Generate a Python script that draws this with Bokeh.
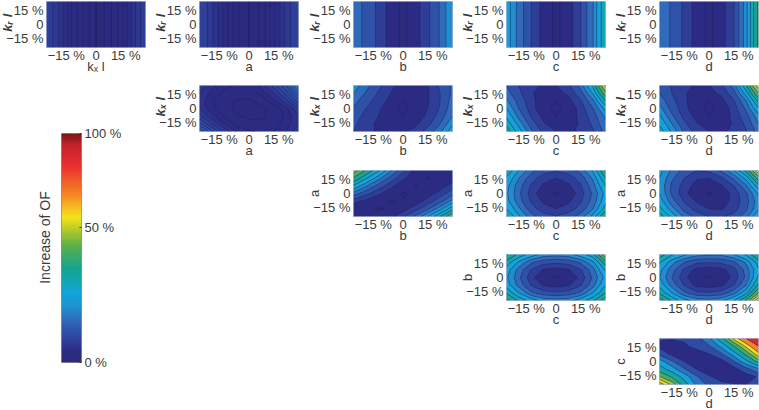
import numpy as np
from math import pi
from bokeh.plotting import figure
from bokeh.layouts import row, column
from bokeh.models import Label, Range1d, FixedTicker, Spacer, LinearColorMapper
from bokeh.embed import file_html
from bokeh.resources import INLINE

GX = [-25, -18.75, -12.5, -6.25, 0, 6.25, 12.5, 18.75, 25]
GY = [25, 16.7, 8.3, 0, -8.3, -16.7, -25]
TICKS = [-15, 0, 15]
XT = {-15: "\u221215 %", 0: "0", 15: "15 %"}
CB_TICKS = [0, 58.8, 100]
CB_LABELS = {0: "0 %", 58.8: "50 %", 100: "100 %"}

kr_kx = [9, 7, 4, 1.8, 0, 1.5, 3.5, 6.5, 9]
kr_a = [10, 7.5, 4.5, 1.5, 0, 1.5, 4.5, 7.5, 10]
kr_b = [19, 14.5, 10, 4.5, 0.3, 4.5, 10, 16.5, 26]
kr_c = [29, 19, 11, 4.5, 0.3, 4, 11, 21, 38]
kr_d = [21, 15, 10, 4.5, 0.3, 4.5, 10.5, 24, 47]

kx_a = [[8, 6, 4.5, 3.8, 4, 6, 9, 13, 21],
        [7, 5, 3.6, 2.8, 3, 4.5, 7, 10.5, 16],
        [6.5, 4.2, 2.8, 1.8, 1.6, 3, 5, 8, 12.5],
        [7, 4.4, 3, 1.5, 0.3, 1.4, 3, 5, 8.5],
        [9, 6, 3.8, 2.2, 1.5, 1.6, 2.8, 4.3, 7],
        [12, 8.5, 5.5, 3.5, 2.7, 2.6, 3.2, 4.8, 7],
        [16, 12, 8, 5.5, 4.2, 3.8, 4, 5.5, 8]]
kx_b = [[24, 18, 12.5, 7.5, 5, 4.5, 6.5, 12, 17],
        [21, 15.5, 10.5, 6.5, 3.8, 3.8, 6, 11, 17],
        [18, 13, 9, 5.2, 1.5, 3.3, 6, 11, 18],
        [15.5, 11, 7.5, 3.1, 0.3, 3, 6.5, 11.5, 19],
        [13.5, 9.5, 6.5, 3.2, 1.5, 4, 7.5, 13, 21],
        [12, 8.5, 5.5, 3.5, 4, 5.5, 9.5, 16, 25],
        [11, 7.5, 6, 5.5, 6, 8, 13, 20, 30]]
kx_c = [[16, 11, 7.5, 6, 6.2, 10, 18, 34, 62],
        [18, 12, 7, 4.5, 5, 7.5, 14, 27, 50],
        [22, 14, 8, 3.5, 1.5, 5, 10.5, 20, 38],
        [26, 16, 8.5, 3, 0.3, 3, 8.5, 16, 28],
        [31, 19, 10.5, 5, 1.5, 3.5, 8, 13.5, 22],
        [36, 24, 13.5, 7, 4.5, 4.5, 7, 12, 20],
        [42, 29, 17, 9.5, 6.5, 6, 7, 10.5, 18]]
kx_d = [[15, 10.5, 7.5, 6, 6.2, 10, 18, 38, 66],
        [16, 11, 7, 4.5, 5, 7.5, 14, 29, 52],
        [19, 12.5, 7.5, 3.5, 1.5, 5, 10.5, 21, 40],
        [23, 14, 8, 3, 0.3, 3, 8.5, 17, 31],
        [27, 17, 9.5, 5, 1.5, 3.5, 8, 14, 24],
        [31, 21, 12, 7, 4.5, 4.5, 7, 12, 21],
        [36, 25, 15, 9, 6.5, 6, 7, 10.5, 18]]
a_b = [[56, 44, 33, 22, 12, 5, 2.5, 2, 2.5],
       [44, 33, 23, 14, 7.5, 3, 0.7, 2, 4.5],
       [31, 22, 14, 8, 3.5, 0.7, 2, 4, 8.5],
       [19, 12.5, 7.5, 3.5, 0.5, 1.5, 4, 8.5, 14],
       [8, 5.5, 2.5, 0.6, 1.5, 4, 8.5, 14, 23],
       [3, 2, 0.6, 1.5, 4.5, 9, 15, 24, 36],
       [2.5, 1.5, 2, 5, 10, 17, 26, 38, 52]]
a_c = [[37, 26, 18, 13, 11.5, 13, 18, 27, 46],
       [31, 21, 13, 8.5, 6.5, 8.5, 13, 22, 38],
       [28, 18, 10.5, 5.5, 3, 5.5, 10.5, 19, 32],
       [27, 17, 9, 3, 0.3, 3, 9, 17, 28],
       [28, 18, 10.5, 5.5, 3, 5.5, 10.5, 18, 30],
       [32, 22, 13, 8.5, 6.5, 8.5, 13, 21, 35],
       [39, 27, 18, 13, 11.5, 13.5, 18.5, 28, 46]]
a_d = [[28, 20, 14, 11, 12, 17, 26, 40, 64],
       [26, 17, 11, 7, 6.5, 10, 17, 28, 48],
       [25, 15, 9, 4.5, 3.2, 6, 11, 20, 36],
       [26, 15, 8, 3, 0.3, 3, 8, 15, 27],
       [29, 18, 10.5, 6, 3.2, 4, 8, 14, 24],
       [34, 23, 14, 9, 6.5, 6, 9, 15, 25],
       [42, 30, 20, 14, 11, 10.5, 12.5, 19, 32]]
b_c = [[46, 36, 29, 24, 23, 24, 29, 36, 58],
       [36, 25, 17, 13, 12, 13, 17, 25, 42],
       [29, 19, 10.5, 6, 4.5, 6, 10.5, 19, 33],
       [27, 17, 8, 2.5, 0.2, 2.5, 8, 17, 28],
       [29, 19, 10.5, 6, 4.5, 6, 10.5, 19, 32],
       [37, 26, 17, 13, 12, 13, 17, 26, 38],
       [47, 37, 29, 24, 23, 24, 29, 37, 50]]
b_d = [[42, 33, 27, 23, 22, 22, 26, 33, 46],
       [33, 23, 16, 12, 11.5, 12, 15, 22, 35],
       [28, 18, 10, 5, 4, 5, 9, 18, 31],
       [26, 16, 8, 2.5, 0.2, 2.5, 8, 17, 33],
       [30, 19, 10.5, 5, 4, 5.5, 11, 21, 40],
       [37, 26, 17, 12, 11.5, 13, 19, 30, 52],
       [49, 37, 28, 24, 23, 25, 32, 46, 72]]
c_d = [[9, 8.5, 9, 13, 22, 40, 62, 80, 100],
       [6, 5, 7, 10, 15, 26, 43, 62, 80],
       [13, 6, 4, 5, 8, 15, 28, 46, 66],
       [28, 17, 8, 3, 1.5, 5, 15, 30, 47],
       [38, 28, 17, 8, 3.5, 2, 5, 13, 22],
       [53, 42, 29, 17, 9, 5, 2.5, 4, 9],
       [74, 58, 38, 22, 14, 10, 8.5, 8, 10]]

lv_kr_kx = [0, 1, 2, 3, 4, 5, 6, 7, 8, 9.1]
lv_kr_a = [0, 1.2, 2.4, 3.6, 4.8, 6, 7.2, 8.4, 10.1]
lv_kr_b = [0, 1.5, 6.5, 11, 16, 21, 26.1]
lv_kr_c = [0, 1.5, 6.5, 11, 16, 21, 26, 32, 38.1]
lv_kr_d = [0, 1.5, 6.5, 11, 16, 21, 26, 32, 38, 45, 47.1]
lv_kx_a = [0, 2, 4, 5.5, 7, 8.5, 10, 11.5, 13, 14.5, 16, 18, 21.1]
lv_kx_b = [0, 1.5, 6.5, 11, 16, 21, 26, 32.1]
lv_mid = [0, 1.5, 6.5, 11, 16, 21, 26, 32, 38, 45, 52, 60, 66.1]
lv_a_b = [0, 1, 6.5, 11, 16, 21, 26, 32, 38, 45, 52, 60.1]
lv_ellipse = [0, 1, 6.5, 11, 16, 21, 26, 32, 38, 45, 52, 58, 64.1]
lv_b_d = [0, 1, 6.5, 11, 16, 21, 26, 32, 38, 45, 52, 58, 64, 72.1]
lv_c_d = [0, 8, 16, 24, 33, 43, 52, 60, 68, 80, 100.1]

STOP_POS = [0, 5, 9, 13.5, 18.5, 24, 30, 41, 51, 58, 63.5, 73, 86, 95, 100]
STOP_COL = ["#2b2a7e", "#2c2b84", "#2e3f98", "#2e52a8", "#2f6bb8", "#1f90d0", "#12a5d8", "#15a48f", "#5bb04a",
            "#b5ca2a", "#f6e31c", "#f58a24", "#ea2e2f", "#c3242a", "#7c1518"]


def rgb(h):
    return [int(h[i:i + 2], 16) for i in (1, 3, 5)]


STOP_RGB = np.array([rgb(c) for c in STOP_COL], float)


def cmap(v):
    return "#%02x%02x%02x" % tuple(int(round(np.interp(v, STOP_POS, STOP_RGB[:, i]))) for i in range(3))


FONT = "Liberation Sans"
INK = "#3a3a3a"
FS = "13px"
BORDER = 51
COL_W = [153, 154, 153, 153, 151]
ROW_H = [84, 85, 84, 84, 84]
LABELS = {"kr": "k\u1d63 l", "kx": "k\u2093 l"}


def panel(col, r, xname, yname, z, levels):
    w = COL_W[col]
    h = ROW_H[r]
    p = figure(width=w, height=h, output_backend="svg", toolbar_location=None,
               x_range=Range1d(-25, 25), y_range=Range1d(-25, 25),
               min_border_left=BORDER, min_border_right=w - BORDER - 99, min_border_top=1,
               min_border_bottom=h - 47, background_fill_color="#2c2b84")
    arr = np.array(z, float)
    if arr.ndim == 1:
        zz = np.vstack([arr, arr])
        ys = [-25, 25]
    else:
        zz = arr[::-1]
        ys = GY[::-1]
    fills = [cmap(0.5 * (a + b)) for a, b in zip(levels[:-1], levels[1:])]
    p.contour(GX, ys, zz, levels, fill_color=fills, line_color="#1c1c50", line_width=0.7, line_alpha=0.55)
    p.grid.visible = False
    p.outline_line_color = "#a7b3d6"
    p.outline_line_width = 1
    for ax in (p.xaxis[0], p.yaxis[0]):
        ax.ticker = FixedTicker(ticks=TICKS)
        ax.major_label_overrides = XT
        ax.axis_line_color = None
        ax.major_tick_line_color = None
        ax.major_tick_out = 0
        ax.major_tick_in = 0
        ax.minor_tick_line_color = None
        ax.major_label_text_font = FONT
        ax.major_label_text_font_size = FS
        ax.major_label_text_color = INK
        ax.axis_label_text_font = FONT
        ax.axis_label_text_font_size = FS
        ax.axis_label_text_color = INK
        ax.axis_label_text_font_style = "normal"
    p.xaxis[0].major_label_standoff = 0
    p.yaxis[0].major_label_standoff = 3
    p.xaxis[0].axis_label = LABELS.get(xname, xname)
    p.xaxis[0].axis_label_standoff = -7
    p.yaxis[0].axis_label = LABELS.get(yname, yname)
    p.yaxis[0].axis_label_standoff = -12
    if yname in LABELS:
        p.yaxis[0].axis_label = "\u00a0" + LABELS[yname]
        p.yaxis[0].axis_label_text_font_style = "bold italic"
    return p


cb = figure(width=133, height=326, output_backend="svg", toolbar_location=None,
            x_range=Range1d(0, 1), y_range=Range1d(0, 100),
            min_border_left=46, min_border_right=67, min_border_top=49, min_border_bottom=48,
            y_axis_location="right")
vals = np.linspace(0, 100, 201)
palette = [cmap(v) for v in vals]
cb.image(image=[vals.reshape(-1, 1)], x=0, y=0, dw=1, dh=100,
         color_mapper=LinearColorMapper(palette=palette, low=0, high=100))
cb.grid.visible = False
cb.xaxis.visible = False
cb.outline_line_color = "#8f8f9f"
ax = cb.yaxis[0]
ax.ticker = FixedTicker(ticks=CB_TICKS)
ax.major_label_overrides = CB_LABELS
ax.axis_line_color = None
ax.major_tick_line_color = "#333333"
ax.major_tick_in = 2
ax.major_tick_out = 0
ax.minor_tick_line_color = None
ax.major_label_standoff = 3
ax.major_label_text_font = FONT
ax.major_label_text_font_size = FS
ax.major_label_text_color = INK
cb.add_layout(Label(x=-1, y=125, x_units="screen", y_units="screen", text="Increase of OF", angle=pi / 2,
                    text_align="center", text_baseline="alphabetic", text_font=FONT,
                    text_font_size="14px", text_color=INK), "left")

p00 = panel(0, 0, "kx", "kr", kr_kx, lv_kr_kx)
left = column(p00, row(Spacer(width=20, height=326), cb, spacing=0), spacing=0)

r0 = row(panel(1, 0, "a", "kr", kr_a, lv_kr_a), panel(2, 0, "b", "kr", kr_b, lv_kr_b),
         panel(3, 0, "c", "kr", kr_c, lv_kr_c), panel(4, 0, "d", "kr", kr_d, lv_kr_d), spacing=0)
r1 = row(panel(1, 1, "a", "kx", kx_a, lv_kx_a), panel(2, 1, "b", "kx", kx_b, lv_kx_b),
         panel(3, 1, "c", "kx", kx_c, lv_mid), panel(4, 1, "d", "kx", kx_d, lv_mid), spacing=0)
r2 = row(Spacer(width=154, height=84), panel(2, 2, "b", "a", a_b, lv_a_b),
         panel(3, 2, "c", "a", a_c, lv_ellipse), panel(4, 2, "d", "a", a_d, lv_ellipse), spacing=0)
r3 = row(Spacer(width=307, height=84), panel(3, 3, "c", "b", b_c, lv_ellipse),
         panel(4, 3, "d", "b", b_d, lv_b_d), spacing=0)
r4 = row(Spacer(width=460, height=84), panel(4, 4, "d", "c", c_d, lv_c_d), spacing=0)
right = column(r0, r1, r2, r3, r4, spacing=0)
page = row(left, right, spacing=0, margin=(0, 0, 0, -5), height=410, styles={"overflow": "hidden"})

open("out.html", "w").write(file_html(page, INLINE))
